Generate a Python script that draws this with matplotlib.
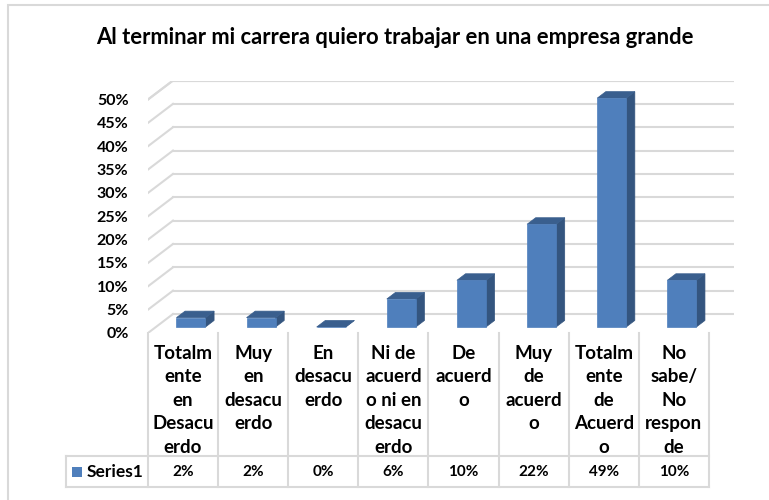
import matplotlib
matplotlib.use("Agg")
import matplotlib.pyplot as plt
from matplotlib.patches import Polygon, Rectangle

# Data
categories = [
    ["Totalm", "ente", "en", "Desacu", "erdo"],
    ["Muy", "en", "desacu", "erdo"],
    ["En", "desacu", "erdo"],
    ["Ni de", "acuerd", "o ni en", "desacu", "erdo"],
    ["De", "acuerd", "o"],
    ["Muy", "de", "acuerd", "o"],
    ["Totalm", "ente", "de", "Acuerd", "o"],
    ["No", "sabe/", "No", "respon", "de"],
]
values = [2, 2, 0, 6, 10, 22, 49, 10]
series_name = "Series1"
yticks = list(range(0, 55, 5))
title = "Al terminar mi carrera quiero trabajar en una empresa grande"

FRONT = "#4F7FBC"
SIDE = "#34557F"
TOP = "#3A5F8E"
GRID = "#D9D9D9"
FONT = "Lato"

W, H = 769, 500
fig = plt.figure(figsize=(W / 100, H / 100), dpi=100)

# oblique depth offset (in data units)
DX = 25 / 70.1
DY = 19 / 4.67
n = len(values)

# plot area in pixels: front floor left 148, right wall 734, floor 333
x0_px, x1_px = 148, 734
y0_px = 333
y1_px = y0_px - (50 + DY) * 4.67
ax = fig.add_axes([x0_px / W, 1 - y0_px / H, (x1_px - x0_px) / W, (y0_px - y1_px) / H])
ax.set_xlim(-0.5, n - 0.5 + DX)
ax.set_ylim(0, 50 + DY)
for s in ax.spines.values():
    s.set_visible(False)
ax.set_xticks([])
ax.set_yticks(yticks)
ax.set_yticklabels([f"{t}%" for t in yticks], fontfamily=FONT, fontweight="bold", fontsize=11.5)
ax.tick_params(axis="y", length=0, pad=14)
ax.patch.set_visible(False)

# walls gridlines
for t in yticks + [50]:
    ax.plot([-0.5 + DX, n - 0.5 + DX], [t + DY, t + DY], color=GRID, lw=1.5, zorder=1)
    ax.plot([-0.5, -0.5 + DX], [t, t + DY], color=GRID, lw=1.5, zorder=1)

# 3D bars
d0, d1 = 0.316, 0.66
bw = 0.414
for i, v in enumerate(values):
    xl = i - bw / 2 + d0 * DX
    xr = i + bw / 2 + d0 * DX
    yb = d0 * DY
    yt = v + d0 * DY
    ddx = (d1 - d0) * DX
    ddy = (d1 - d0) * DY
    side = Polygon([(xr, yb), (xr + ddx, yb + ddy), (xr + ddx, yt + ddy), (xr, yt)],
                   closed=True, facecolor=SIDE, edgecolor=SIDE, lw=0.5, zorder=3)
    top = Polygon([(xl, yt), (xl + ddx, yt + ddy), (xr + ddx, yt + ddy), (xr, yt)],
                  closed=True, facecolor=TOP, edgecolor=TOP, lw=0.5, zorder=3)
    front = Rectangle((xl, yb), xr - xl, yt - yb, facecolor=FRONT, edgecolor=FRONT,
                      lw=0.5, zorder=4)
    ax.add_patch(side)
    ax.add_patch(top)
    ax.add_patch(front)

# data table below (pixel y, data x)
tab = fig.add_axes([x0_px / W, 0, (x1_px - x0_px) / W, y0_px / H])
tab.set_xlim(ax.get_xlim())
tab.set_ylim(H, H - y0_px)
tab.axis("off")
row_top, row_bot = 456, 487
leg_left = -0.5 - (148 - 66) / 70.1
for k in range(n + 1):
    tab.plot([k - 0.5, k - 0.5], [y0_px, row_bot], color=GRID, lw=1.5, clip_on=False)
for yy in (row_top, row_bot):
    tab.plot([leg_left, n - 0.5], [yy, yy], color=GRID, lw=1.5, clip_on=False)
tab.plot([leg_left, leg_left], [row_top, row_bot], color=GRID, lw=1.5, clip_on=False)

for i, lines in enumerate(categories):
    for j, line in enumerate(lines):
        tab.text(i, 353 + j * 23.5, line, ha="center", va="center", fontfamily=FONT,
                 fontweight="bold", fontsize=13.5, clip_on=False)
    tab.text(i, 472, f"{values[i]}%", ha="center", va="center", fontfamily=FONT,
             fontweight="bold", fontsize=11, clip_on=False)

px = 70.1
tab.add_patch(Rectangle((leg_left + 6 / px, 477), 10 / px, -10, facecolor=FRONT,
                        edgecolor="none", clip_on=False))
tab.text(leg_left + 21 / px, 472, series_name, ha="left", va="center", fontfamily=FONT,
         fontweight="bold", fontsize=12.5, clip_on=False)

# outer border
fig.add_artist(Rectangle((8 / W, -0.01), 1.0, 1 - 5 / H + 0.01, transform=fig.transFigure,
                         facecolor="none", edgecolor=GRID, lw=1.5))

fig.text(394.5 / W, 1 - 38 / H, title, ha="center", va="center", fontfamily=FONT,
         fontweight="bold", fontsize=15.8)

fig.savefig("out.png", dpi=100)
